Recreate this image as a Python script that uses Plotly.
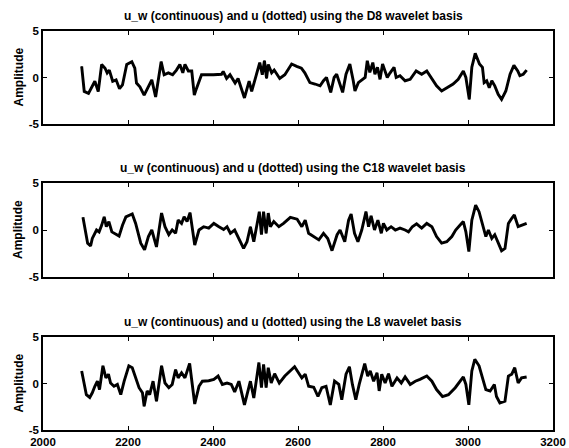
import plotly.graph_objects as go

# ---- data ----
d8_t = [2091, 2097, 2107, 2112, 2122, 2130, 2138, 2146, 2151, 2156, 2164, 2172, 2180, 2187, 2197, 2209,
        2216, 2220, 2228, 2238, 2248, 2256, 2265, 2278, 2285, 2295, 2305, 2314, 2322, 2329, 2334, 2342,
        2350, 2356, 2361, 2373, 2401, 2420, 2424, 2432, 2440, 2452, 2459, 2474, 2485, 2491, 2510, 2516,
        2521, 2526, 2530, 2538, 2544, 2557, 2569, 2585, 2597, 2608, 2616, 2628, 2640, 2652, 2660, 2667,
        2677, 2685, 2691, 2705, 2713, 2722, 2730, 2734, 2742, 2758, 2763, 2769, 2776, 2781, 2787, 2793,
        2799, 2805, 2810, 2816, 2826, 2831, 2840, 2852, 2864, 2878, 2891, 2903, 2914, 2926, 2938, 2950,
        2965, 2977, 2989, 2995, 3003, 3009, 3017, 3027, 3034, 3038, 3044, 3050, 3056, 3063, 3071, 3079,
        3089, 3099, 3108, 3117, 3122, 3130, 3138]
d8_v = [1.2, -1.5, -1.7, -1.3, -0.4, -1.5, 1.4, 1.0, 0.5, 0.8, -0.4, -0.25, -1.2, -0.8, 1.4, 1.7,
        1.0, -0.6, -1.0, -1.9, -1.0, -0.25, -2.1, 1.7, 0.3, 0.5, 0.3, 0.8, 1.4, 0.5, 1.4, 0.7,
        0.7, -1.9, -1.2, 0.3, 0.3, 0.35, 0.65, -0.1, 0.3, -0.6, -0.1, -2.2, -0.4, -1.5, 1.6, 0.3,
        1.8, -0.1, 1.4, 0.5, 0.8, -0.1, 0.3, 1.45, 1.2, 1.0, 0.5, -0.55, -0.7, -0.9, -0.35, 0.0,
        -1.6, 0.0, 0.35, -1.6, 0.35, 1.45, -0.35, -1.45, -0.55, 0.0, 1.8, 0.55, 1.6, 0.35, 1.1, -0.2,
        1.45, 0.55, 0.0, 0.45, 1.1, 0.0, 0.2, -0.35, -0.2, 0.7, 0.35, 0.7, 0.0, -0.9, -1.45, -1.1,
        -0.7, -0.2, 0.7, 0.0, -2.35, 1.1, 2.6, 1.45, 1.1, -0.55, -0.35, -1.1, -0.35, -0.9, -1.8, -2.35,
        -1.45, 0.35, 1.3, 0.7, 0.2, 0.35, 0.8]

c18_t = [2094, 2105, 2112, 2116, 2126, 2132, 2138, 2144, 2149, 2155, 2162, 2169, 2179, 2187, 2195, 2210,
         2218, 2230, 2239, 2248, 2256, 2267, 2279, 2287, 2296, 2304, 2312, 2318, 2326, 2332, 2339, 2346,
         2351, 2357, 2367, 2378, 2390, 2402, 2414, 2425, 2433, 2441, 2451, 2461, 2472, 2480, 2488, 2496,
         2504, 2509, 2514, 2519, 2525, 2530, 2535, 2543, 2555, 2566, 2582, 2598, 2609, 2617, 2625, 2637,
         2649, 2660, 2670, 2680, 2692, 2699, 2710, 2719, 2725, 2733, 2741, 2750, 2760, 2766, 2772, 2780,
         2788, 2796, 2801, 2809, 2819, 2829, 2840, 2852, 2860, 2869, 2879, 2891, 2903, 2915, 2926, 2938,
         2950, 2962, 2971, 2981, 2989, 2995, 3002, 3009, 3018, 3026, 3034, 3042, 3048, 3056, 3063, 3071,
         3079, 3087, 3095, 3103, 3109, 3118, 3126, 3138]
c18_v = [1.35, -1.4, -1.7, -0.9, 0.0, -0.2, 0.5, 1.4, 0.35, 0.9, -0.2, -0.35, -0.65, 0.5, 1.4, 1.7,
         0.7, -1.4, -2.1, -0.7, 0.0, -1.8, 1.8, 0.35, -0.5, 0.0, -0.35, 1.05, 0.7, 1.4, 0.9, 1.85,
         0.35, -1.6, 0.0, 0.35, 0.2, 0.7, 0.35, 0.05, 0.35, -0.35, 0.0, -0.9, -1.95, -1.25, 0.35, -1.25,
         0.7, 1.95, -0.5, 1.95, -0.35, 1.8, 0.35, 0.9, 0.35, 0.7, 1.35, 1.15, 0.35, 1.05, -0.35, -0.7,
         -1.05, -0.35, -0.9, -2.2, -0.5, 0.0, -1.25, 1.05, 1.7, -0.35, -1.25, 0.0, 1.95, 0.35, 1.5, 0.0,
         1.05, -0.35, 0.7, 0.0, 0.35, 0.0, 0.2, 0.0, -0.2, 0.35, 0.65, 0.2, 0.7, 0.35, -0.7, -1.4,
         -1.25, -0.7, 0.0, 0.5, 0.9, -0.2, -2.3, 1.05, 2.65, 1.95, 0.7, -0.7, 0.0, -0.9, -0.5, -1.4,
         -2.2, -1.95, 0.7, 1.25, 1.6, 0.35, 0.5, 0.7]

l8_t = [2091, 2102, 2110, 2116, 2122, 2128, 2133, 2141, 2148, 2154, 2159, 2167, 2175, 2183, 2191, 2202,
        2210, 2218, 2226, 2234, 2238, 2245, 2251, 2259, 2267, 2279, 2287, 2296, 2304, 2312, 2318, 2326,
        2334, 2345, 2351, 2357, 2367, 2375, 2390, 2402, 2412, 2422, 2433, 2443, 2451, 2461, 2474, 2483,
        2488, 2496, 2508, 2514, 2519, 2525, 2530, 2537, 2545, 2556, 2569, 2592, 2602, 2609, 2617, 2625,
        2637, 2647, 2656, 2666, 2676, 2686, 2696, 2703, 2713, 2721, 2728, 2736, 2744, 2757, 2764, 2770,
        2778, 2786, 2791, 2797, 2805, 2813, 2821, 2833, 2843, 2852, 2864, 2876, 2887, 2903, 2915, 2926,
        2940, 2954, 2970, 2981, 2989, 2995, 3002, 3009, 3016, 3026, 3034, 3042, 3052, 3062, 3067, 3075,
        3087, 3095, 3103, 3110, 3118, 3126, 3138]
l8_v = [1.35, -1.2, -1.5, -1.0, -0.3, 0.25, -0.65, 1.9, 0.6, 1.0, 0.05, -0.3, -0.1, -1.2, 0.25, 1.9,
        1.7, 0.6, -0.45, -1.0, -2.45, -0.8, -1.2, 0.25, -1.9, 1.9, 0.05, -0.45, -0.1, 1.5, 0.6, 1.15,
        0.6, 2.15, 0.25, -2.2, -0.3, 0.25, 0.3, 0.45, 0.8, -0.1, 0.05, -0.1, -0.9, 0.25, -2.3, -0.65,
        0.25, -1.55, 2.25, -0.45, 2.05, -0.45, 1.7, 0.05, 1.05, 0.05, 0.8, 1.8, 1.15, 0.6, 1.0, -0.3,
        -0.4, -1.4, -0.45, -0.3, -2.3, 0.25, -0.1, -1.75, 1.0, 1.8, -0.1, -1.75, -0.1, 2.15, 0.8, 1.35,
        0.25, 1.15, -0.8, 1.0, 0.05, 1.05, -0.3, 0.6, 0.05, 0.7, -0.1, 0.25, 0.45, 0.8, 0.25, -0.65,
        -1.4, -1.2, -0.45, 0.25, 0.7, -0.1, -2.3, 1.35, 2.6, 1.9, 0.6, -0.65, -0.8, -0.1, -1.4, -2.1,
        -1.9, 0.8, 1.0, 1.7, 0.05, 0.6, 0.7]

titles = [
    "u_w (continuous) and u (dotted) using the D8 wavelet basis",
    "u_w (continuous) and u (dotted) using the C18 wavelet basis",
    "u_w (continuous) and u (dotted) using the L8 wavelet basis",
]
# u (dotted) is hidden almost entirely under u_w in every panel, so it is
# drawn from the same readings as the continuous curve of that panel
series = [(d8_t, d8_v), (c18_t, c18_v), (l8_t, l8_v)]
x_ticks = [2000, 2200, 2400, 2600, 2800, 3000, 3200]
y_ticks = [-5, 0, 5]

# ---- layout geometry (pixels) ----
W, H = 569, 448
ML, MR, MT, MB = 43, 16, 31, 18
panel_px = [(31, 124), (183, 277), (337, 430)]  # top, bottom in page pixels
ph = H - MT - MB
pw = W - ML - MR

FONT = "Liberation Sans, Arial, sans-serif"
fig = go.Figure()
layout = dict(
    width=W, height=H, margin=dict(l=ML, r=MR, t=MT, b=MB),
    paper_bgcolor="white", plot_bgcolor="white", showlegend=False,
    font=dict(family=FONT, color="black", size=11),
)
annotations = []
for i, ((top, bot), (t, v), title) in enumerate(zip(panel_px, series, titles)):
    n = "" if i == 0 else str(i + 1)
    y0 = (H - MB - bot) / ph
    y1 = (H - MB - top) / ph
    xa = "x" + n
    ya = "y" + n
    fig.add_trace(go.Scatter(x=t, y=v, mode="lines", xaxis=xa, yaxis=ya,
                             line=dict(color="black", width=1.0, dash="dot")))
    fig.add_trace(go.Scatter(x=t, y=v, mode="lines", xaxis=xa, yaxis=ya,
                             line=dict(color="black", width=2.9)))
    common = dict(showline=True, linecolor="black", linewidth=1.6, mirror="ticks",
                  ticks="inside", ticklen=4, tickwidth=1.4, tickcolor="black",
                  showgrid=False, zeroline=False, automargin=False,
                  tickfont=dict(family=FONT, size=11.5, color="black", weight="bold"))
    layout["xaxis" + n] = dict(common, domain=[0, 1], range=[2000, 3200], tickvals=x_ticks,
                               showticklabels=(i == 2), anchor=ya)
    layout["yaxis" + n] = dict(common, domain=[y0, y1], range=[-5, 5], tickvals=y_ticks,
                               ticktext=[str(k) for k in y_ticks], anchor=xa)
    annotations.append(dict(text="<b>" + title + "</b>", xref="paper", yref="paper",
                            x=(293 - ML) / pw, y=y1 + 15 / ph, xanchor="center", yanchor="middle",
                            showarrow=False, font=dict(family=FONT, size=12, color="black")))
    annotations.append(dict(text="<b>Amplitude</b>", xref="paper", yref="paper",
                            x=(18 - ML) / pw, y=(y0 + y1) / 2, textangle=-90,
                            xanchor="center", yanchor="middle", showarrow=False,
                            font=dict(family=FONT, size=12, color="black")))
layout["annotations"] = annotations
fig.update_layout(**layout)
fig.write_html("out.html")
